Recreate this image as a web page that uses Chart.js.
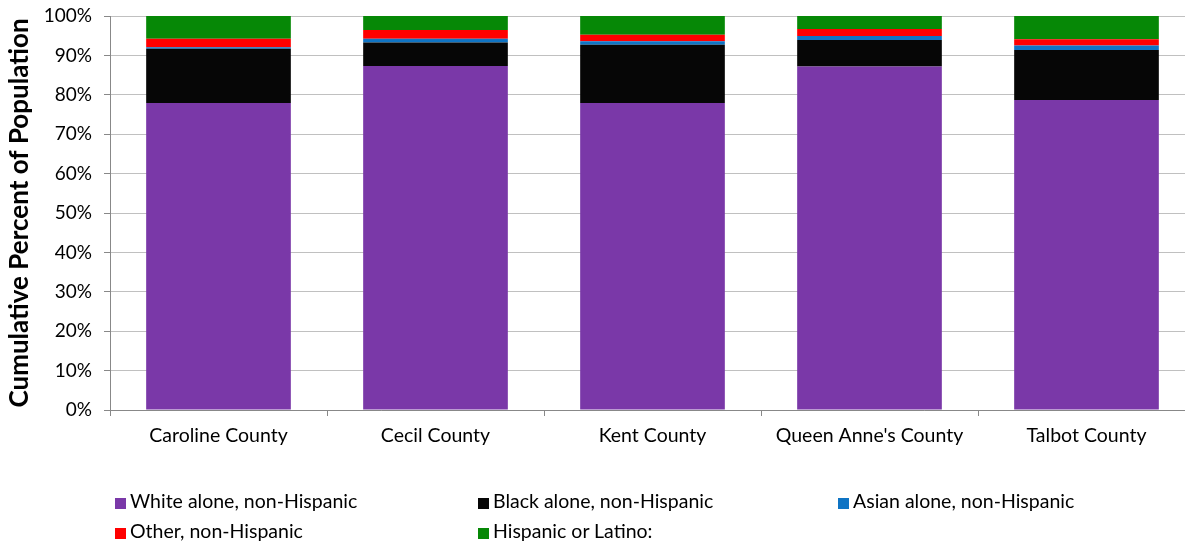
<!DOCTYPE html>
<html>
<head>
<meta charset="utf-8">
<script src="https://cdn.jsdelivr.net/npm/chart.js@4"></script>
<style>
  html, body { margin: 0; padding: 0; background: #fff; overflow: hidden; }
  #wrap { position: relative; width: 1195px; height: 546px; }
  #legend { position: absolute; left: 0; top: 0; width: 1185px; height: 546px; pointer-events: none;
    font-family: "Lato", sans-serif; font-size: 19.5px; color: #000; }
  .li { position: absolute; white-space: nowrap; line-height: 20px; }
  .sw { display: inline-block; width: 11px; height: 11px; margin-right: 4px; vertical-align: -1px; }
</style>
</head>
<body>
<div id="wrap">
  <canvas id="c" width="1195" height="546"></canvas>
  <div id="legend"></div>
</div>
<script>
const categories = ["Caroline County", "Cecil County", "Kent County", "Queen Anne's County", "Talbot County"];
const seriesNames = ["White alone, non-Hispanic", "Black alone, non-Hispanic", "Asian alone, non-Hispanic", "Other, non-Hispanic", "Hispanic or Latino:"];
const white    = [77.9, 87.3, 77.9, 87.2, 78.7];
const black    = [13.8,  6.0, 14.8,  6.7, 12.7];
const asian    = [ 0.4,  0.95, 0.9,  1.0,  1.1];
const other    = [ 2.1,  2.2,  1.65, 1.8,  1.6];
const hispanic = [ 5.8,  3.55, 4.75, 3.3,  5.9];
const yTicks = [0, 10, 20, 30, 40, 50, 60, 70, 80, 90, 100];

const colors = ["#7A38A8", "#060606", "#0F74C4", "#FF0000", "#068806"];
const seriesValues = [white, black, asian, other, hispanic];

const datasets = seriesNames.map((name, i) => ({
  label: name,
  data: seriesValues[i],
  backgroundColor: colors[i],
  borderWidth: 0,
  barPercentage: 2/3,
  categoryPercentage: 1.0
}));

new Chart(document.getElementById('c'), {
  type: 'bar',
  data: { labels: categories, datasets },
  options: {
    responsive: false,
    animation: false,
    layout: { padding: { top: 16, right: 0, left: 0, bottom: 0 } },
    plugins: { legend: { display: false }, tooltip: { enabled: false } },
    scales: {
      x: {
        stacked: true,
        grid: { display: true, drawOnChartArea: false, offset: true, color: '#888', tickLength: 6, tickColor: '#888' },
        border: { color: '#888', width: 1 },
        ticks: { color: '#000', font: { family: 'Lato', size: 19.5 }, padding: 8, maxRotation: 0 },
        afterFit: s => { s.height = 136; s.paddingLeft = 0; s.paddingRight = 0; }
      },
      y: {
        stacked: true,
        min: 0, max: 100,
        afterBuildTicks: s => { s.ticks = yTicks.map(v => ({ value: v })); },
        grid: { color: '#c0c0c0', lineWidth: 1, tickLength: 6, tickColor: '#888' },
        border: { color: '#888', width: 1 },
        ticks: { color: '#000', font: { family: 'Lato', size: 19 }, padding: 12, callback: v => v + '%' },
        title: { display: true, text: 'Cumulative Percent of Population', color: '#000',
                 font: { family: 'Lato', size: 26, weight: 'bold' }, padding: { top: 4, bottom: 6 } },
        afterFit: s => { s.width = 110; s.paddingTop = 0; s.paddingBottom = 0; }
      }
    }
  }
});

const legendPos = [[115, 501], [478, 501], [838, 501], [115, 531], [478, 531]];
const lg = document.getElementById('legend');
seriesNames.forEach((name, i) => {
  const d = document.createElement('div');
  d.className = 'li';
  d.style.left = legendPos[i][0] + 'px';
  d.style.top = (legendPos[i][1] - 10) + 'px';
  d.innerHTML = '<span class="sw" style="background:' + colors[i] + '"></span>' + name;
  lg.appendChild(d);
});
</script>
</body>
</html>
